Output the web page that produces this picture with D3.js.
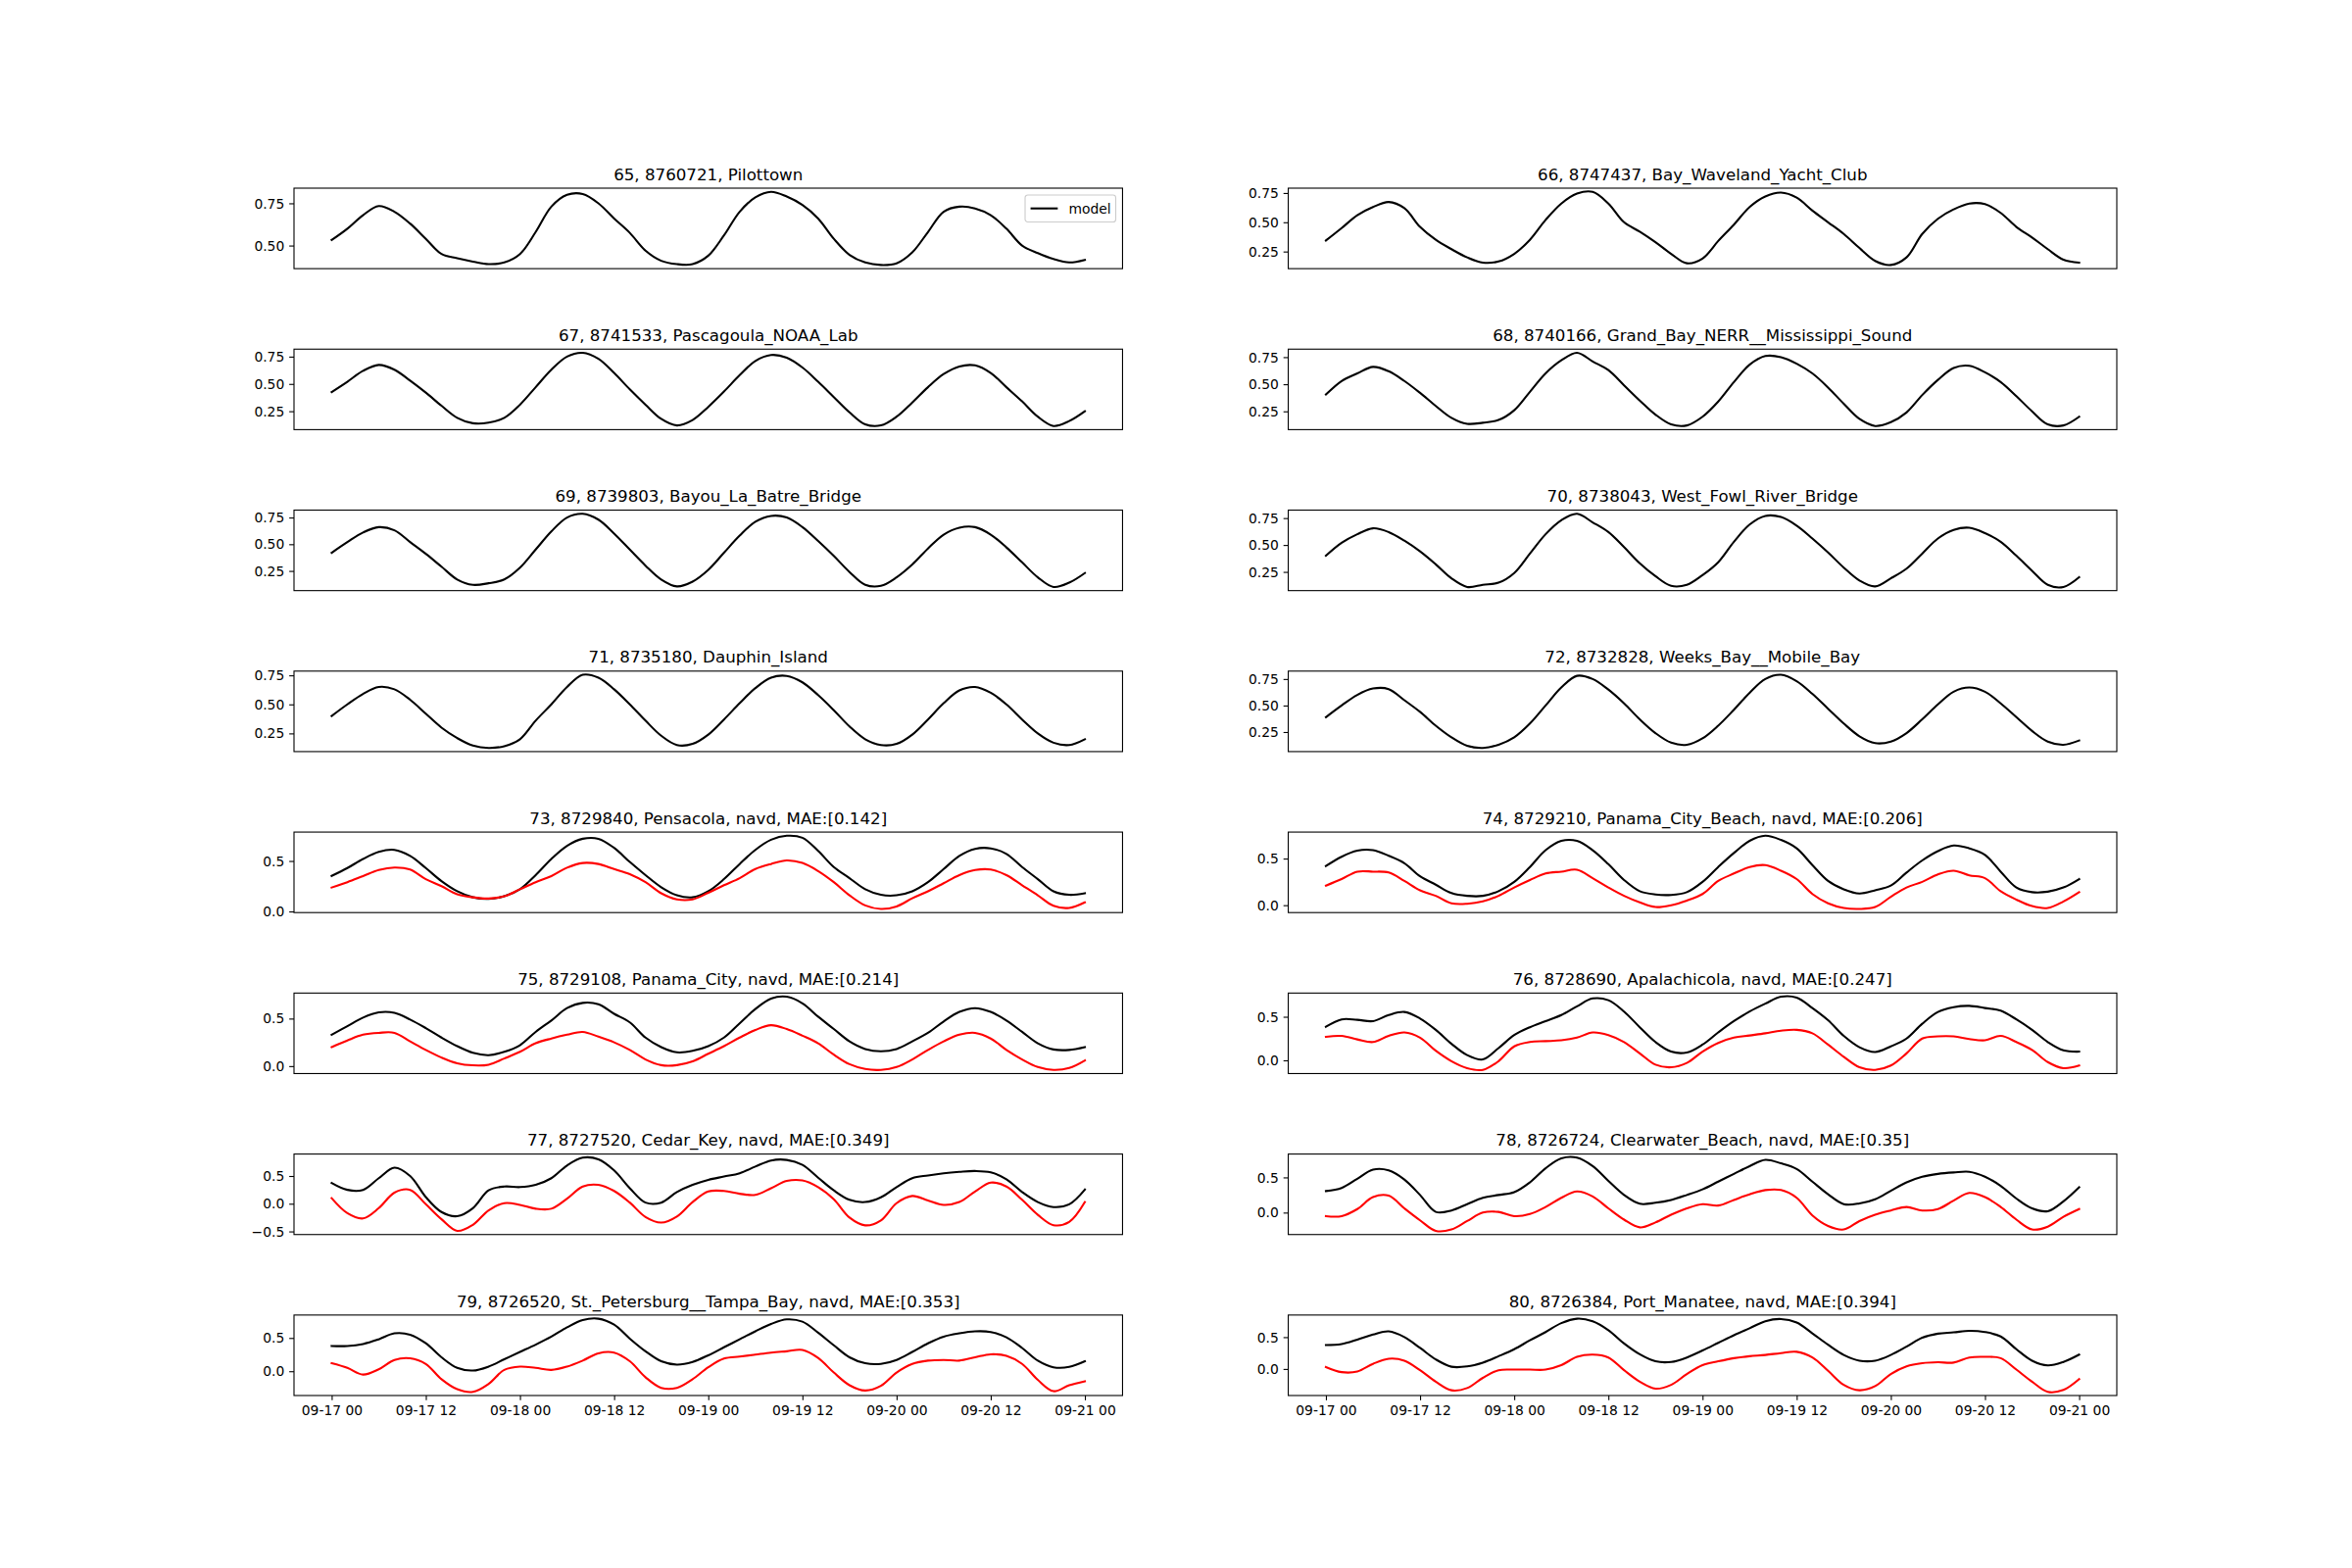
<!DOCTYPE html>
<html>
<head>
<meta charset="utf-8">
<script src="https://cdn.jsdelivr.net/npm/d3@7"></script>
<style>
  html, body { margin: 0; padding: 0; background: #fff; }
  svg { display: block; }
  text { font-family: "DejaVu Sans", sans-serif; fill: #000; }
</style>
</head>
<body>
<script>
// ---------------- DATA ----------------
const titles = [
  "65, 8760721, Pilottown",
  "66, 8747437, Bay_Waveland_Yacht_Club",
  "67, 8741533, Pascagoula_NOAA_Lab",
  "68, 8740166, Grand_Bay_NERR__Mississippi_Sound",
  "69, 8739803, Bayou_La_Batre_Bridge",
  "70, 8738043, West_Fowl_River_Bridge",
  "71, 8735180, Dauphin_Island",
  "72, 8732828, Weeks_Bay__Mobile_Bay",
  "73, 8729840, Pensacola, navd, MAE:[0.142]",
  "74, 8729210, Panama_City_Beach, navd, MAE:[0.206]",
  "75, 8729108, Panama_City, navd, MAE:[0.214]",
  "76, 8728690, Apalachicola, navd, MAE:[0.247]",
  "77, 8727520, Cedar_Key, navd, MAE:[0.349]",
  "78, 8726724, Clearwater_Beach, navd, MAE:[0.35]",
  "79, 8726520, St._Petersburg__Tampa_Bay, navd, MAE:[0.353]",
  "80, 8726384, Port_Manatee, navd, MAE:[0.394]"
];

// hours since 09-17 00, every 2 hours
const sampleHours = d3.range(0, 97, 2);

const xTickLabels = ["09-17 00","09-17 12","09-18 00","09-18 12","09-19 00","09-19 12","09-20 00","09-20 12","09-21 00"];

const model65 = [0.533,0.60,0.68,0.734,0.70,0.63,0.54,0.45,0.425,0.405,0.39,0.40,0.45,0.58,0.73,0.80,0.805,0.75,0.66,0.575,0.47,0.41,0.39,0.39,0.44,0.56,0.70,0.785,0.818,0.79,0.74,0.66,0.54,0.445,0.40,0.385,0.395,0.46,0.58,0.70,0.73,0.72,0.68,0.60,0.50,0.455,0.42,0.40,0.415];
const model66 = [0.344,0.45,0.56,0.63,0.673,0.62,0.46,0.35,0.27,0.20,0.155,0.165,0.23,0.35,0.52,0.66,0.745,0.76,0.66,0.50,0.42,0.33,0.23,0.15,0.19,0.34,0.48,0.63,0.72,0.753,0.71,0.60,0.50,0.40,0.28,0.17,0.135,0.20,0.40,0.53,0.61,0.66,0.655,0.58,0.46,0.37,0.27,0.18,0.155];
const model67 = [0.426,0.52,0.62,0.674,0.63,0.53,0.42,0.30,0.19,0.14,0.145,0.19,0.31,0.47,0.63,0.75,0.785,0.73,0.60,0.45,0.31,0.18,0.12,0.17,0.29,0.43,0.58,0.71,0.765,0.74,0.65,0.52,0.38,0.24,0.13,0.12,0.20,0.33,0.47,0.59,0.66,0.67,0.60,0.47,0.34,0.20,0.115,0.16,0.25];
const model68 = [0.405,0.53,0.60,0.66,0.62,0.53,0.42,0.30,0.19,0.135,0.145,0.17,0.26,0.43,0.60,0.72,0.79,0.71,0.63,0.49,0.35,0.22,0.13,0.12,0.20,0.34,0.52,0.68,0.76,0.75,0.69,0.60,0.47,0.32,0.18,0.115,0.15,0.24,0.40,0.54,0.65,0.67,0.61,0.52,0.39,0.25,0.13,0.12,0.20];
const model69 = [0.42,0.52,0.61,0.66,0.63,0.52,0.41,0.29,0.17,0.12,0.135,0.17,0.28,0.45,0.62,0.75,0.785,0.73,0.60,0.45,0.30,0.17,0.105,0.15,0.26,0.42,0.58,0.71,0.765,0.75,0.66,0.53,0.39,0.24,0.12,0.11,0.19,0.31,0.46,0.59,0.655,0.66,0.59,0.47,0.33,0.19,0.10,0.14,0.23];
const model70 = [0.40,0.52,0.60,0.655,0.62,0.54,0.44,0.32,0.19,0.11,0.13,0.15,0.24,0.42,0.60,0.73,0.79,0.71,0.62,0.48,0.33,0.21,0.12,0.13,0.22,0.34,0.53,0.69,0.77,0.76,0.68,0.56,0.43,0.29,0.17,0.115,0.19,0.28,0.42,0.56,0.64,0.66,0.61,0.53,0.40,0.26,0.13,0.11,0.20];
const model71 = [0.40,0.50,0.59,0.65,0.63,0.54,0.42,0.30,0.21,0.145,0.125,0.14,0.20,0.36,0.50,0.65,0.755,0.73,0.63,0.50,0.36,0.23,0.15,0.16,0.24,0.37,0.51,0.64,0.73,0.745,0.69,0.58,0.45,0.31,0.20,0.15,0.16,0.24,0.37,0.51,0.62,0.65,0.60,0.50,0.37,0.25,0.17,0.15,0.20];
const model72 = [0.39,0.50,0.60,0.66,0.655,0.55,0.44,0.31,0.20,0.12,0.10,0.13,0.20,0.33,0.50,0.67,0.78,0.75,0.65,0.52,0.37,0.24,0.15,0.13,0.19,0.31,0.46,0.62,0.75,0.79,0.73,0.61,0.47,0.33,0.21,0.145,0.16,0.24,0.37,0.51,0.63,0.67,0.63,0.52,0.39,0.26,0.16,0.13,0.17];
const model73 = [0.352,0.43,0.52,0.59,0.61,0.55,0.43,0.30,0.20,0.14,0.125,0.15,0.22,0.36,0.52,0.65,0.72,0.72,0.63,0.49,0.36,0.24,0.16,0.14,0.20,0.32,0.47,0.61,0.71,0.75,0.73,0.60,0.44,0.33,0.22,0.165,0.16,0.20,0.29,0.42,0.55,0.62,0.625,0.57,0.44,0.32,0.20,0.165,0.18];
const obs73   = [0.237,0.29,0.35,0.41,0.435,0.415,0.32,0.25,0.17,0.14,0.128,0.15,0.22,0.29,0.35,0.434,0.48,0.47,0.42,0.37,0.29,0.18,0.12,0.12,0.185,0.26,0.33,0.42,0.47,0.505,0.48,0.40,0.29,0.16,0.06,0.025,0.05,0.13,0.20,0.28,0.36,0.41,0.415,0.36,0.26,0.16,0.056,0.035,0.09];
const model74 = [0.42,0.52,0.585,0.59,0.53,0.45,0.31,0.22,0.13,0.10,0.10,0.15,0.25,0.41,0.59,0.69,0.69,0.59,0.44,0.27,0.15,0.115,0.11,0.14,0.25,0.41,0.56,0.69,0.745,0.70,0.61,0.43,0.26,0.17,0.125,0.16,0.21,0.35,0.48,0.58,0.64,0.61,0.54,0.36,0.19,0.14,0.145,0.19,0.28];
const obs74   = [0.21,0.28,0.36,0.36,0.35,0.26,0.16,0.10,0.02,0.015,0.04,0.10,0.19,0.27,0.34,0.36,0.38,0.29,0.19,0.10,0.03,-0.02,0.00,0.05,0.12,0.26,0.34,0.41,0.43,0.37,0.28,0.12,0.02,-0.03,-0.04,-0.02,0.09,0.19,0.25,0.33,0.37,0.32,0.29,0.15,0.06,-0.01,-0.03,0.04,0.14];
const model75 = [0.33,0.42,0.51,0.565,0.56,0.49,0.40,0.30,0.21,0.14,0.115,0.15,0.22,0.36,0.48,0.61,0.665,0.65,0.55,0.46,0.30,0.20,0.145,0.16,0.21,0.30,0.45,0.60,0.71,0.73,0.66,0.52,0.39,0.26,0.18,0.155,0.18,0.26,0.35,0.47,0.57,0.61,0.57,0.48,0.36,0.24,0.175,0.17,0.20];
const obs75   = [0.20,0.27,0.33,0.35,0.35,0.26,0.17,0.09,0.03,0.008,0.015,0.08,0.15,0.24,0.29,0.33,0.36,0.31,0.25,0.17,0.07,0.01,0.01,0.05,0.13,0.21,0.30,0.38,0.43,0.39,0.32,0.24,0.12,0.02,-0.03,-0.04,-0.01,0.07,0.17,0.26,0.33,0.35,0.29,0.17,0.07,-0.01,-0.04,-0.02,0.06];
const model76 = [0.385,0.47,0.465,0.45,0.52,0.555,0.48,0.35,0.19,0.06,0.01,0.14,0.29,0.38,0.45,0.52,0.62,0.71,0.69,0.56,0.38,0.21,0.10,0.09,0.18,0.32,0.45,0.56,0.65,0.73,0.72,0.60,0.46,0.28,0.15,0.095,0.16,0.25,0.42,0.555,0.61,0.625,0.60,0.57,0.47,0.35,0.21,0.115,0.10];
const obs76   = [0.27,0.28,0.24,0.21,0.28,0.32,0.26,0.11,-0.01,-0.09,-0.11,-0.01,0.16,0.21,0.22,0.23,0.26,0.32,0.29,0.21,0.08,-0.05,-0.08,-0.03,0.10,0.20,0.26,0.285,0.31,0.34,0.35,0.31,0.18,0.04,-0.08,-0.11,-0.06,0.08,0.25,0.275,0.275,0.245,0.23,0.28,0.21,0.12,-0.02,-0.09,-0.06];
const model77 = [0.375,0.25,0.25,0.46,0.65,0.50,0.12,-0.15,-0.225,-0.08,0.24,0.31,0.30,0.34,0.46,0.69,0.83,0.80,0.60,0.28,0.02,0.02,0.21,0.34,0.43,0.49,0.55,0.67,0.78,0.79,0.70,0.47,0.24,0.07,0.03,0.115,0.30,0.46,0.51,0.55,0.575,0.59,0.565,0.44,0.21,0.03,-0.06,-0.01,0.256];
const obs77   = [0.10,-0.17,-0.265,-0.08,0.20,0.25,-0.01,-0.28,-0.49,-0.38,-0.12,0.01,-0.02,-0.09,-0.09,0.09,0.31,0.34,0.23,0.02,-0.24,-0.34,-0.23,0.03,0.22,0.23,0.18,0.16,0.28,0.41,0.42,0.30,0.08,-0.25,-0.39,-0.30,0.01,0.14,0.06,-0.02,0.03,0.22,0.38,0.31,0.07,-0.20,-0.387,-0.33,0.03];
const model78 = [0.306,0.35,0.48,0.61,0.60,0.47,0.25,0.01,0.03,0.12,0.21,0.25,0.29,0.43,0.63,0.77,0.78,0.66,0.45,0.25,0.125,0.14,0.18,0.25,0.33,0.44,0.55,0.66,0.75,0.70,0.62,0.44,0.26,0.12,0.13,0.19,0.31,0.43,0.51,0.55,0.57,0.58,0.51,0.38,0.20,0.06,0.02,0.16,0.36];
const obs78   = [-0.05,-0.05,0.05,0.22,0.24,0.06,-0.11,-0.26,-0.24,-0.12,0.00,0.01,-0.05,-0.02,0.08,0.21,0.30,0.23,0.06,-0.10,-0.21,-0.14,-0.03,0.06,0.12,0.10,0.18,0.26,0.32,0.32,0.21,-0.04,-0.19,-0.24,-0.12,-0.03,0.03,0.08,0.03,0.05,0.17,0.28,0.22,0.08,-0.10,-0.24,-0.20,-0.06,0.05];
const model79 = [0.38,0.38,0.41,0.48,0.57,0.55,0.42,0.21,0.05,0.01,0.07,0.18,0.29,0.40,0.52,0.66,0.77,0.79,0.70,0.49,0.30,0.15,0.10,0.14,0.24,0.36,0.48,0.60,0.71,0.78,0.745,0.58,0.39,0.21,0.12,0.11,0.17,0.29,0.42,0.52,0.57,0.60,0.59,0.51,0.35,0.16,0.06,0.065,0.15];
const obs79   = [0.12,0.05,-0.05,0.03,0.17,0.195,0.11,-0.12,-0.27,-0.31,-0.19,0.02,0.07,0.05,0.02,0.07,0.16,0.27,0.28,0.15,-0.09,-0.25,-0.25,-0.12,0.06,0.19,0.22,0.25,0.28,0.30,0.32,0.20,-0.02,-0.21,-0.29,-0.22,-0.02,0.11,0.16,0.17,0.16,0.21,0.255,0.23,0.11,-0.13,-0.30,-0.21,-0.15];
const model80 = [0.375,0.39,0.46,0.54,0.59,0.50,0.33,0.15,0.035,0.04,0.10,0.20,0.31,0.45,0.58,0.72,0.79,0.75,0.61,0.40,0.23,0.12,0.11,0.18,0.29,0.41,0.53,0.64,0.75,0.785,0.73,0.56,0.38,0.22,0.13,0.13,0.22,0.35,0.49,0.555,0.575,0.60,0.58,0.51,0.31,0.13,0.055,0.11,0.225];
const obs80   = [0.03,-0.05,-0.04,0.08,0.16,0.13,-0.02,-0.20,-0.335,-0.30,-0.14,-0.02,-0.01,-0.01,-0.01,0.06,0.19,0.225,0.18,-0.02,-0.20,-0.31,-0.25,-0.08,0.06,0.12,0.17,0.20,0.22,0.25,0.27,0.18,-0.03,-0.25,-0.335,-0.27,-0.08,0.04,0.09,0.105,0.10,0.18,0.19,0.17,-0.01,-0.20,-0.36,-0.33,-0.16];

const modelSeries = [model65,model66,model67,model68,model69,model70,model71,model72,model73,model74,model75,model76,model77,model78,model79,model80];
const obsSeries   = [null,null,null,null,null,null,null,null,obs73,obs74,obs75,obs76,obs77,obs78,obs79,obs80];

const yTickValues = [
  [0.50,0.75],[0.25,0.50,0.75],[0.25,0.50,0.75],[0.25,0.50,0.75],
  [0.25,0.50,0.75],[0.25,0.50,0.75],[0.25,0.50,0.75],[0.25,0.50,0.75],
  [0.0,0.5],[0.0,0.5],[0.0,0.5],[0.0,0.5],
  [-0.5,0.0,0.5],[0.0,0.5],[0.0,0.5],[0.0,0.5]
];
const yTickFormats = [".2f",".2f",".2f",".2f",".2f",".2f",".2f",".2f",".1f",".1f",".1f",".1f",".1f",".1f",".1f",".1f"];

// ---------------- LAYOUT ----------------
const W = 2400, H = 1600;
const figL = 300, figR = 2160, figT = 192, figB = 1424;
const nRows = 8, nCols = 2, wspace = 0.2, hspace = 1.0;
const axW = (figR - figL) / (nCols + (nCols - 1) * wspace);
const axH = (figB - figT) / (nRows + (nRows - 1) * hspace);
const lw = 2.08;

const t0 = Date.UTC(2024, 8, 17, 0, 0, 0);
const toDate = h => new Date(t0 + h * 3600e3);
const tickDates = xTickLabels.map((_, i) => toDate(i * 12));

const svg = d3.select("body").append("svg").attr("width", W).attr("height", H);
svg.append("rect").attr("width", W).attr("height", H).attr("fill", "#fff");

titles.forEach((title, i) => {
  const row = Math.floor(i / 2), col = i % 2;
  const x0 = figL + col * axW * (1 + wspace);
  const y0 = figT + row * axH * (1 + hspace);
  const g = svg.append("g").attr("transform", `translate(${x0},${y0})`);

  const model = modelSeries[i], obs = obsSeries[i];
  const allVals = obs ? model.concat(obs) : model;
  const [vmin, vmax] = d3.extent(allVals);
  const pad = (vmax - vmin) * 0.05;

  const tStart = toDate(0).getTime(), tEnd = toDate(96).getTime();
  const tPad = (tEnd - tStart) * 0.05;
  const x = d3.scaleUtc().domain([new Date(tStart - tPad), new Date(tEnd + tPad)]).range([0, axW]);
  const y = d3.scaleLinear().domain([vmin - pad, vmax + pad]).range([axH, 0]);

  const line = d3.line()
    .x((d, k) => x(toDate(sampleHours[k])))
    .y(d => y(d))
    .curve(d3.curveCatmullRom.alpha(0.5));

  const clipId = "clip" + i;
  g.append("clipPath").attr("id", clipId).append("rect").attr("width", axW).attr("height", axH);
  const plot = g.append("g").attr("clip-path", `url(#${clipId})`);
  plot.append("path").datum(model).attr("d", line)
    .attr("fill", "none").attr("stroke", "#000").attr("stroke-width", lw)
    .attr("stroke-linejoin", "round").attr("stroke-linecap", "square");
  if (obs) {
    plot.append("path").datum(obs).attr("d", line)
      .attr("fill", "none").attr("stroke", "#ff0000").attr("stroke-width", lw)
      .attr("stroke-linejoin", "round").attr("stroke-linecap", "square");
  }

  // y axis
  const yAxis = d3.axisLeft(y).tickValues(yTickValues[i])
    .tickFormat(d3.format(yTickFormats[i])).tickSize(4.86).tickPadding(4.86);
  const ya = g.append("g").call(yAxis);
  ya.select(".domain").remove();
  ya.selectAll(".tick line").attr("stroke", "#000").attr("stroke-width", 1.1);
  ya.selectAll(".tick text").attr("font-size", 13.89).attr("font-family", "DejaVu Sans")
    .attr("fill", "#000").attr("dy", "0.33em");

  // x axis on bottom row only
  if (row === nRows - 1) {
    const xAxis = d3.axisBottom(x).tickValues(tickDates)
      .tickFormat((d, k) => xTickLabels[k]).tickSize(4.86).tickPadding(4.86);
    const xa = g.append("g").attr("transform", `translate(0,${axH})`).call(xAxis);
    xa.select(".domain").remove();
    xa.selectAll(".tick line").attr("stroke", "#000").attr("stroke-width", 1.1);
    xa.selectAll(".tick text").attr("font-size", 13.89).attr("font-family", "DejaVu Sans")
      .attr("fill", "#000").attr("dy", "0.76em");
  }

  // frame
  g.append("rect").attr("width", axW).attr("height", axH)
    .attr("fill", "none").attr("stroke", "#000").attr("stroke-width", 1.1);

  // title
  g.append("text").attr("x", axW / 2).attr("y", -8.33)
    .attr("text-anchor", "middle").attr("font-size", 16.67).text(title);

  // legend on first panel
  if (i === 0) {
    const fs = 13.89;
    const lgW = 92.5, lgH = 27.5;
    const lx = axW - 6.94 - lgW, ly = 6.94;
    const lg = g.append("g").attr("transform", `translate(${lx},${ly})`);
    lg.append("rect").attr("width", lgW).attr("height", lgH).attr("rx", 2.8)
      .attr("fill", "#fff").attr("fill-opacity", 0.8).attr("stroke", "#cccccc").attr("stroke-width", 1.1);
    lg.append("line").attr("x1", 5.56).attr("x2", 5.56 + 27.78)
      .attr("y1", lgH / 2).attr("y2", lgH / 2).attr("stroke", "#000").attr("stroke-width", lw);
    lg.append("text").attr("x", 5.56 + 27.78 + 11.11).attr("y", lgH / 2)
      .attr("dy", "0.35em").attr("font-size", fs).text("model");
  }
});
</script>
</body>
</html>
